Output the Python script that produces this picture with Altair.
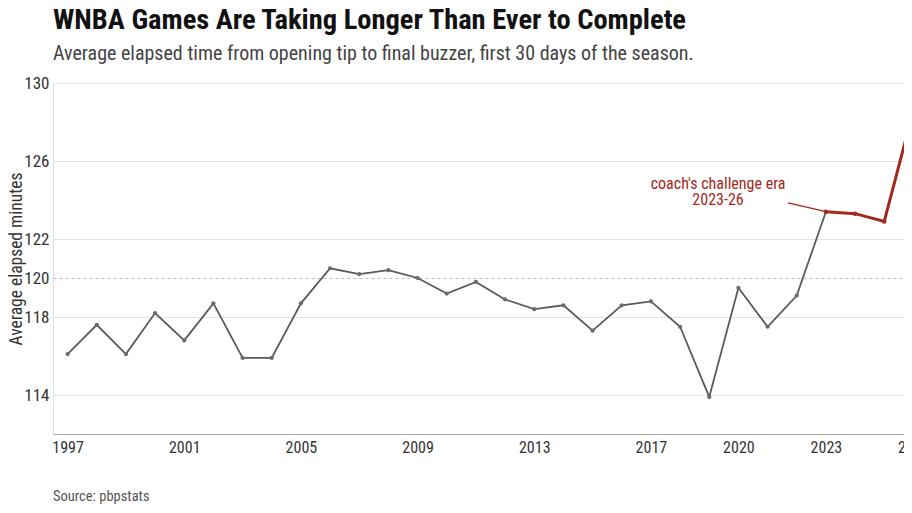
import altair as alt
import pandas as pd

FONT = "'Roboto Condensed', 'Liberation Sans Narrow', 'DejaVu Sans Condensed', Roboto, sans-serif"

years = [1997, 1998, 1999, 2000, 2001, 2002, 2003, 2004, 2005, 2006,
         2007, 2008, 2009, 2010, 2011, 2012, 2013, 2014, 2015, 2016,
         2017, 2018, 2019, 2020, 2021, 2022, 2023, 2024, 2025, 2026]
minutes = [116.1, 117.6, 116.1, 118.2, 116.8, 118.7, 115.9, 115.9, 118.7, 120.5,
           120.2, 120.4, 120.0, 119.2, 119.8, 118.9, 118.4, 118.6, 117.3, 118.6,
           118.8, 117.5, 113.9, 119.5, 117.5, 119.1, 123.4, 123.3, 122.9, 128.6]

x_ticks = [1997, 2001, 2005, 2009, 2013, 2017, 2020, 2023, 2026]
y_ticks = [114, 118, 120, 122, 126, 130]

era_start = 2023
annot_text = ["coach's challenge era", "2023-26"]
annot_year = [2019.3]
annot_value = [124.8]
leader_years = [2021.7, 2023]
leader_values = [123.85, 123.4]

GRAY = "#5a5a5a"
RED = "#a3281c"

df = pd.DataFrame({"year": years, "minutes": minutes})

# the x range runs past the visible plot so the final year is cut at the right edge
xscale = alt.Scale(domain=[1996.5, 2026.5], range=[0, 875], nice=False, zero=False)
yscale = alt.Scale(domain=[112, 130], nice=False, zero=False)

x_enc = alt.X("year:Q", scale=xscale, title=None,
              axis=alt.Axis(values=x_ticks, format="d", grid=False, ticks=False,
                            domainColor="#aaaaaa", domainWidth=1.2,
                            labelFontSize=16, labelColor="#333333", labelFont=FONT,
                            labelPadding=5, labelFlush=False))
y_enc = alt.Y("minutes:Q", scale=yscale, title="Average elapsed minutes",
              axis=alt.Axis(values=y_ticks, domain=False, ticks=False,
                            gridColor={"condition": {"test": "datum.value === 120", "value": "#bbbbbb"}, "value": "#e3e3e3"},
                            gridDash={"condition": {"test": "datum.value === 120", "value": [3, 3]}, "value": []},
                            gridWidth=1,
                            labelFontSize=17, labelColor="#333333", labelFont=FONT,
                            labelPadding=4,
                            titleFontSize=17.5, titleFontWeight="normal", titleColor="#333333",
                            titleFont=FONT, titlePadding=-2))

base = alt.Chart(df).encode(x=x_enc, y=y_enc)

gray_line = base.transform_filter(alt.datum.year <= era_start).mark_line(color=GRAY, strokeWidth=1.8)
gray_pts = base.transform_filter(alt.datum.year < era_start).mark_circle(color="#6b6b6b", size=18, opacity=1)
red_line = base.transform_filter(alt.datum.year >= era_start).mark_line(color=RED, strokeWidth=3)
red_pts = base.transform_filter(alt.datum.year >= era_start).mark_circle(color=RED, size=20, opacity=1)

leader_df = pd.DataFrame({"year": leader_years, "minutes": leader_values})
leader = alt.Chart(leader_df).mark_line(color=RED, strokeWidth=1.3).encode(
    x=alt.X("year:Q", scale=xscale), y=alt.Y("minutes:Q", scale=yscale))

annot_df = pd.DataFrame({"year": annot_year, "minutes": annot_value, "label": [annot_text]})
annot = alt.Chart(annot_df).mark_text(color=RED, fontSize=16, font=FONT, align="center",
                                      baseline="middle", lineHeight=16).encode(
    x=alt.X("year:Q", scale=xscale), y=alt.Y("minutes:Q", scale=yscale), text="label")

source = alt.Chart(pd.DataFrame({"t": ["Source: pbpstats"]})).mark_text(
    color="#555555", fontSize=14.5, font=FONT, align="left", baseline="middle").encode(
    x=alt.value(0), y=alt.value(414), text="t")

chart = alt.layer(gray_line, gray_pts, red_line, red_pts, leader, annot, source).properties(
    width=851, height=351,
    autosize=alt.AutoSizeParams(type="none"),
    padding={"left": 45, "top": 75, "right": 0, "bottom": 75},
    title=alt.TitleParams(
        text="WNBA Games Are Taking Longer Than Ever to Complete",
        subtitle="Average elapsed time from opening tip to final buzzer, first 30 days of the season.",
        anchor="start", frame="group", font=FONT, fontSize=28.5, fontWeight="bold", color="#111111",
        subtitleFont=FONT, subtitleFontSize=20, subtitleColor="#444444", subtitlePadding=10,
        offset=10),
).configure_view(stroke=None).configure(background="white")

chart.save("out.html", embed_options={"renderer": "svg", "actions": False})
